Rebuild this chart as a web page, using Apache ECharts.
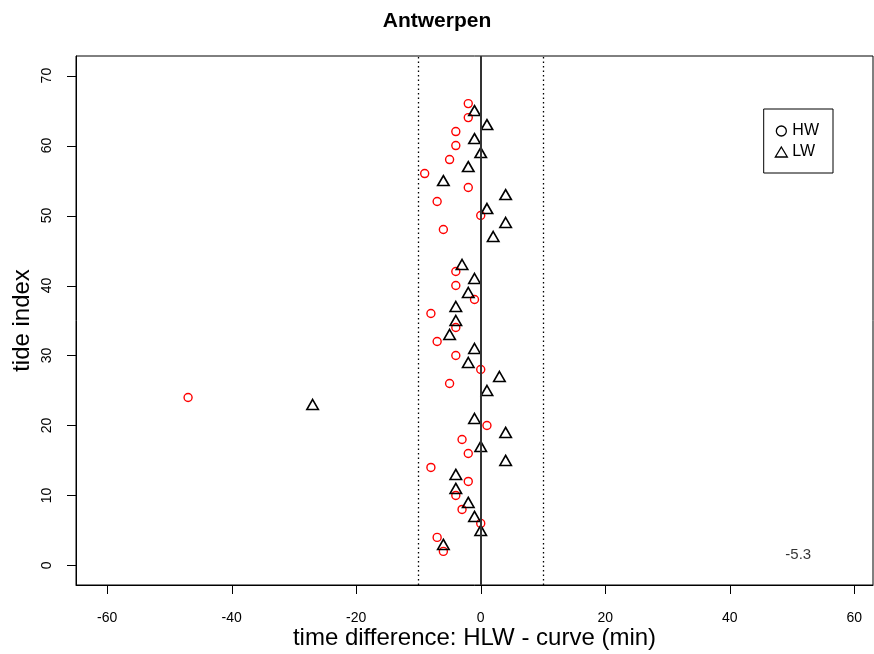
<!DOCTYPE html>
<html>
<head>
<meta charset="utf-8">
<script src="https://cdn.jsdelivr.net/npm/echarts@6/dist/echarts.min.js"></script>
<style>html,body{margin:0;padding:0;background:#fff}#c{width:874px;height:654px}</style>
</head>
<body>
<div id="c"></div>
<script>
const hwIndex = [2,4,6,8,10,12,14,16,18,20,24,26,28,30,32,34,36,38,40,42,48,50,52,54,56,58,60,62,64,66];
const hwDiff  = [-6,-7,0,-3,-4,-2,-8,-2,-3,1,-47,-5,0,-4,-7,-4,-8,-1,-4,-4,-6,0,-7,-2,-9,-5,-4,-4,-2,-2];
const lwIndex = [3,5,7,9,11,13,15,17,19,21,23,25,27,29,31,33,35,37,39,41,43,47,49,51,53,55,57,59,61,63,65];
const lwDiff  = [-6,0,-1,-2,-4,-4,4,0,4,-1,-27,1,3,-2,-1,-5,-4,-4,-2,-1,-3,2,4,1,4,-6,-2,0,-1,1,-1];
const xTicks = [-60,-40,-20,0,20,40,60];
const yTicks = [0,10,20,30,40,50,60,70];
const xView = [-65, 63];
const yView = [-2.8, 72.8];
const refLines = [-10,10];
const centerLine = 0;
const annotText = '-5.3';
const annotPos = [51, 1.5];

const font = 'Liberation Sans, Arial, sans-serif';
const G = {left: 76, top: 56, width: 797, height: 529};
const xs = G.width / (xView[1] - xView[0]);
const ys = G.height / (yView[1] - yView[0]);
const xT0 = xTicks[0], xT1 = xTicks[xTicks.length - 1];
const yT0 = yTicks[0], yT1 = yTicks[yTicks.length - 1];
const gridX = {left: G.left + (xT0 - xView[0]) * xs, width: (xT1 - xT0) * xs, top: G.top, height: G.height, outerBoundsMode: 'none', containLabel: false};
const gridY = {left: G.left, width: G.width, top: G.top + (yView[1] - yT1) * ys, height: (yT1 - yT0) * ys, outerBoundsMode: 'none', containLabel: false};
const TICK = 9;

const labelStyle = {fontFamily: font, fontSize: 14, color: '#000'};

const chart = echarts.init(document.getElementById('c'));
chart.setOption({
  animation: false,
  title: {text: 'Antwerpen', left: 'center', top: 6,
    textStyle: {fontFamily: font, fontSize: 21, fontWeight: 'bold', color: '#000'}},
  grid: [
    Object.assign({show: true, borderColor: '#000', borderWidth: 1, containLabel: false, outerBoundsMode: 'none'}, G),
    gridX, gridY
  ],
  legend: {
    right: 41, top: 109, orient: 'vertical', itemGap: 5, itemWidth: 12, itemHeight: 10,
    borderColor: '#000', borderWidth: 1, borderRadius: 0, padding: [14, 14, 13, 11],
    textStyle: {fontFamily: font, fontSize: 16, color: '#000'},
    data: [
      {name: 'HW', icon: 'circle', itemStyle: {color: '#fff', borderColor: '#000', borderWidth: 1.3}},
      {name: 'LW', icon: 'triangle', itemStyle: {color: '#fff', borderColor: '#000', borderWidth: 1.3}}
    ]
  },
  xAxis: [
    {
      gridIndex: 0, type: 'value', min: xView[0], max: xView[1],
      name: 'time difference: HLW - curve (min)', nameLocation: 'middle', nameGap: 41,
      nameTextStyle: {fontFamily: font, fontSize: 24, color: '#000'},
      axisLine: {show: true, onZero: false, lineStyle: {color: '#000'}},
      axisTick: {show: false}, axisLabel: {show: false}, splitLine: {show: false}
    },
    {
      gridIndex: 1, type: 'value', position: 'bottom', min: xT0, max: xT1, interval: xTicks[1] - xTicks[0],
      axisLine: {show: false, onZero: false}, axisTick: {show: false},
      axisLabel: Object.assign({margin: 26}, labelStyle), splitLine: {show: false}
    },
    {gridIndex: 2, type: 'value', show: false, min: 0, max: 1}
  ],
  yAxis: [
    {
      gridIndex: 0, type: 'value', min: yView[0], max: yView[1],
      name: 'tide index', nameLocation: 'middle', nameGap: 42, nameRotate: 90,
      nameTextStyle: {fontFamily: font, fontSize: 24, color: '#000'},
      axisLine: {show: true, onZero: false, lineStyle: {color: '#000'}},
      axisTick: {show: false}, axisLabel: {show: false}, splitLine: {show: false}
    },
    {gridIndex: 1, type: 'value', show: false, min: 0, max: 1},
    {
      gridIndex: 2, type: 'value', position: 'left', min: yT0, max: yT1, interval: yTicks[1] - yTicks[0],
      axisLine: {show: false, onZero: false}, axisTick: {show: false},
      axisLabel: Object.assign({margin: 22, rotate: 90}, labelStyle), splitLine: {show: false}
    }
  ],
  series: [
    {
      name: 'HW', type: 'scatter', xAxisIndex: 0, yAxisIndex: 0, symbol: 'circle', symbolSize: 8,
      itemStyle: {color: '#fff', borderColor: '#ff0000', borderWidth: 1.4, opacity: 1},
      data: hwDiff.map((d, i) => [d, hwIndex[i]]),
      z: 3,
      markLine: {
        silent: true, symbol: 'none', label: {show: false},
        lineStyle: {color: '#000', type: [1.5, 3], width: 1.3},
        data: refLines.map(v => ({xAxis: v})).concat([{xAxis: centerLine, lineStyle: {type: 'solid', width: 2, color: '#333'}}])
      }
    },
    {
      name: 'LW', type: 'scatter', xAxisIndex: 0, yAxisIndex: 0, symbol: 'triangle', symbolSize: [11.5, 10],
      itemStyle: {color: 'rgba(0,0,0,0)', borderColor: '#000', borderWidth: 1.6, opacity: 1},
      data: lwDiff.map((d, i) => [d, lwIndex[i]]),
      z: 4
    },
    {
      name: 'annot', type: 'scatter', xAxisIndex: 0, yAxisIndex: 0, symbolSize: 0, silent: true,
      data: [annotPos],
      label: {show: true, formatter: annotText, position: 'inside', fontFamily: font, fontSize: 15, color: '#000'}
    },
    {
      name: 'xticks', type: 'custom', xAxisIndex: 0, yAxisIndex: 0, silent: true, clip: false,
      data: xTicks.map(v => [v]),
      encode: {x: 0},
      renderItem: function (params, api) {
        const p = api.coord([api.value(0), yView[0]]);
        const x = Math.round(p[0]) + 0.5, y = Math.round(p[1]);
        return {type: 'line', shape: {x1: x, y1: y, x2: x, y2: y + TICK}, style: {stroke: '#000', lineWidth: 1}};
      }
    },
    {
      name: 'yticks', type: 'custom', xAxisIndex: 0, yAxisIndex: 0, silent: true, clip: false,
      data: yTicks.map(v => [v]),
      encode: {y: 0},
      renderItem: function (params, api) {
        const p = api.coord([xView[0], api.value(0)]);
        const x = Math.round(p[0]), y = Math.round(p[1]) + 0.5;
        return {type: 'line', shape: {x1: x - TICK, y1: y, x2: x, y2: y}, style: {stroke: '#000', lineWidth: 1}};
      }
    }
  ]
});
</script>
</body>
</html>
